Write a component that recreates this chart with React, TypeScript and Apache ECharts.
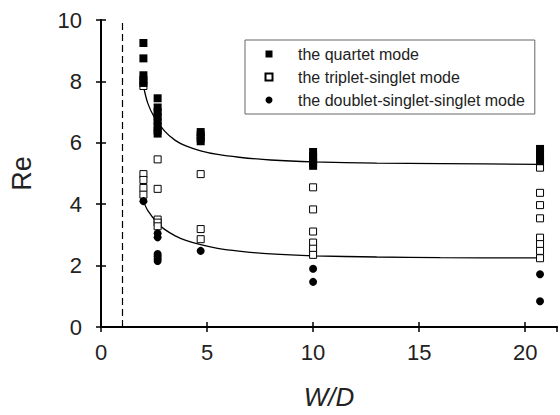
import React, { useEffect, useRef } from "react";
import * as echarts from "echarts";

// ---- data ----
const quartet: [number, number][] = [
  [2.0, 9.25], [2.0, 8.75], [2.0, 8.2], [2.0, 8.05], [2.0, 7.95],
  [2.67, 7.45], [2.67, 7.15], [2.67, 7.0], [2.67, 6.85], [2.67, 6.7], [2.67, 6.55], [2.67, 6.4], [2.67, 6.3],
  [4.7, 6.35], [4.7, 6.25], [4.7, 6.15], [4.7, 6.05],
  [10, 5.7], [10, 5.55], [10, 5.45], [10, 5.35], [10, 5.25],
  [20.7, 5.8], [20.7, 5.65], [20.7, 5.5], [20.7, 5.4],
];
const triplet: [number, number][] = [
  [2.0, 7.85], [2.0, 4.98], [2.0, 4.79], [2.0, 4.53], [2.0, 4.31],
  [2.67, 5.46], [2.67, 4.5], [2.67, 3.5], [2.67, 3.4], [2.67, 3.28],
  [4.7, 4.98], [4.7, 3.19], [4.7, 2.86],
  [10, 4.55], [10, 3.83], [10, 3.11], [10, 2.75], [10, 2.55], [10, 2.35],
  [20.7, 5.19], [20.7, 4.37], [20.7, 3.97], [20.7, 3.54], [20.7, 2.91], [20.7, 2.7], [20.7, 2.48], [20.7, 2.24],
];
const doublet: [number, number][] = [
  [2.0, 4.1],
  [2.67, 3.05], [2.67, 2.92], [2.67, 2.38], [2.67, 2.3], [2.67, 2.22], [2.67, 2.15],
  [4.7, 2.48],
  [10, 1.9], [10, 1.47],
  [20.7, 1.72], [20.7, 0.84],
];
const upperFit: [number, number][] = [
  [2.0, 7.85], [2.2, 7.3], [2.5, 6.85], [3, 6.38], [3.5, 6.08], [4, 5.9], [4.7, 5.74],
  [5.5, 5.62], [6.5, 5.53], [8, 5.44], [10, 5.38], [13, 5.34], [16, 5.32], [20.7, 5.3],
];
const lowerFit: [number, number][] = [
  [2.0, 4.1], [2.2, 3.8], [2.67, 3.38], [3, 3.18], [3.5, 2.97], [4, 2.82], [4.7, 2.68],
  [5.5, 2.56], [6.5, 2.47], [8, 2.38], [10, 2.32], [13, 2.28], [16, 2.26], [20.7, 2.25],
];
const legendNames = [
  "the quartet mode",
  "the triplet-singlet mode",
  "the doublet-singlet-singlet mode",
];
const criticalRatio = 1;

const FONT = "Liberation Sans, Arial, Helvetica, sans-serif";
const TXT = "#222";

export default function App() {
  const ref = useRef<HTMLDivElement>(null);
  useEffect(() => {
    if (!ref.current) return;
    const chart = echarts.init(ref.current, undefined, { renderer: "svg" });
    const axisLine = { show: true, lineStyle: { color: "#000", width: 1.8 } };
    const tick = { show: true, inside: true, length: 5, lineStyle: { color: "#000", width: 1.5 } };
    chart.setOption({
      animation: false,
      backgroundColor: "#fff",
      textStyle: { fontFamily: FONT },
      grid: { left: 101, top: 20, right: 3, bottom: 82, containLabel: false },
      legend: {
        data: legendNames,
        orient: "vertical",
        left: 245,
        top: 40,
        itemWidth: 7,
        itemHeight: 7,
        itemGap: 7,
        padding: [6, 10, 6, 19.5],
        borderColor: "#666",
        borderWidth: 1,
        backgroundColor: "#fff",
        textStyle: { fontSize: 16, color: TXT, fontFamily: FONT, padding: [0, 0, 0, 20.5] },
      },
      xAxis: [
        {
          type: "value",
          min: 0,
          max: 21.5,
          interval: 5,
          name: "W/D",
          nameLocation: "middle",
          nameGap: 57,
          nameTextStyle: { fontSize: 26, fontStyle: "italic", color: TXT, fontFamily: FONT },
          axisLine,
          axisTick: tick,
          splitLine: { show: false },
          axisLabel: {
            fontSize: 22,
            color: TXT,
            margin: 14,
            showMaxLabel: false,
            formatter: (v: number) => (v % 5 === 0 ? String(v) : ""),
          },
        },
        {
          type: "value",
          position: "top",
          min: 0,
          max: 21.5,
          interval: 5,
          axisLine,
          axisTick: tick,
          splitLine: { show: false },
          axisLabel: { show: false },
        },
      ],
      yAxis: [
        {
          type: "value",
          min: 0,
          max: 10,
          interval: 2,
          name: "Re",
          nameLocation: "middle",
          nameGap: 66,
          nameTextStyle: { fontSize: 27, color: TXT, fontFamily: FONT },
          axisLine,
          axisTick: tick,
          splitLine: { show: false },
          axisLabel: { fontSize: 22, color: TXT, margin: 19 },
        },
        {
          type: "value",
          position: "right",
          min: 0,
          max: 10,
          interval: 2,
          axisLine,
          axisTick: tick,
          splitLine: { show: false },
          axisLabel: { show: false },
        },
      ],
      series: [
        {
          name: legendNames[1],
          type: "scatter",
          symbol: "rect",
          symbolSize: 7,
          data: triplet,
          itemStyle: { color: "#fff", borderColor: "#000", borderWidth: 1, opacity: 1 },
          z: 3,
        },
        {
          name: legendNames[0],
          type: "scatter",
          symbol: "rect",
          symbolSize: 8,
          data: quartet,
          itemStyle: { color: "#000", opacity: 1 },
          z: 4,
        },
        {
          name: legendNames[2],
          type: "scatter",
          symbol: "circle",
          symbolSize: 8,
          data: doublet,
          itemStyle: { color: "#000", opacity: 1 },
          z: 5,
        },
        {
          name: "fit-upper",
          type: "line",
          data: upperFit,
          smooth: 0.3,
          showSymbol: false,
          symbol: "none",
          lineStyle: { color: "#000", width: 1.3 },
          z: 2,
          markLine: {
            silent: true,
            symbol: "none",
            label: { show: false },
            lineStyle: { color: "#000", width: 1.2, type: [7, 4] },
            data: [{ xAxis: criticalRatio }],
          },
        },
        {
          name: "fit-lower",
          type: "line",
          data: lowerFit,
          smooth: 0.3,
          showSymbol: false,
          symbol: "none",
          lineStyle: { color: "#000", width: 1.3 },
          z: 2,
        },
      ],
    });
    return () => chart.dispose();
  }, []);
  return (
    <div
      ref={ref}
      style={{ position: "fixed", left: 0, top: 0, width: 560, height: 415 }}
    />
  );
}
